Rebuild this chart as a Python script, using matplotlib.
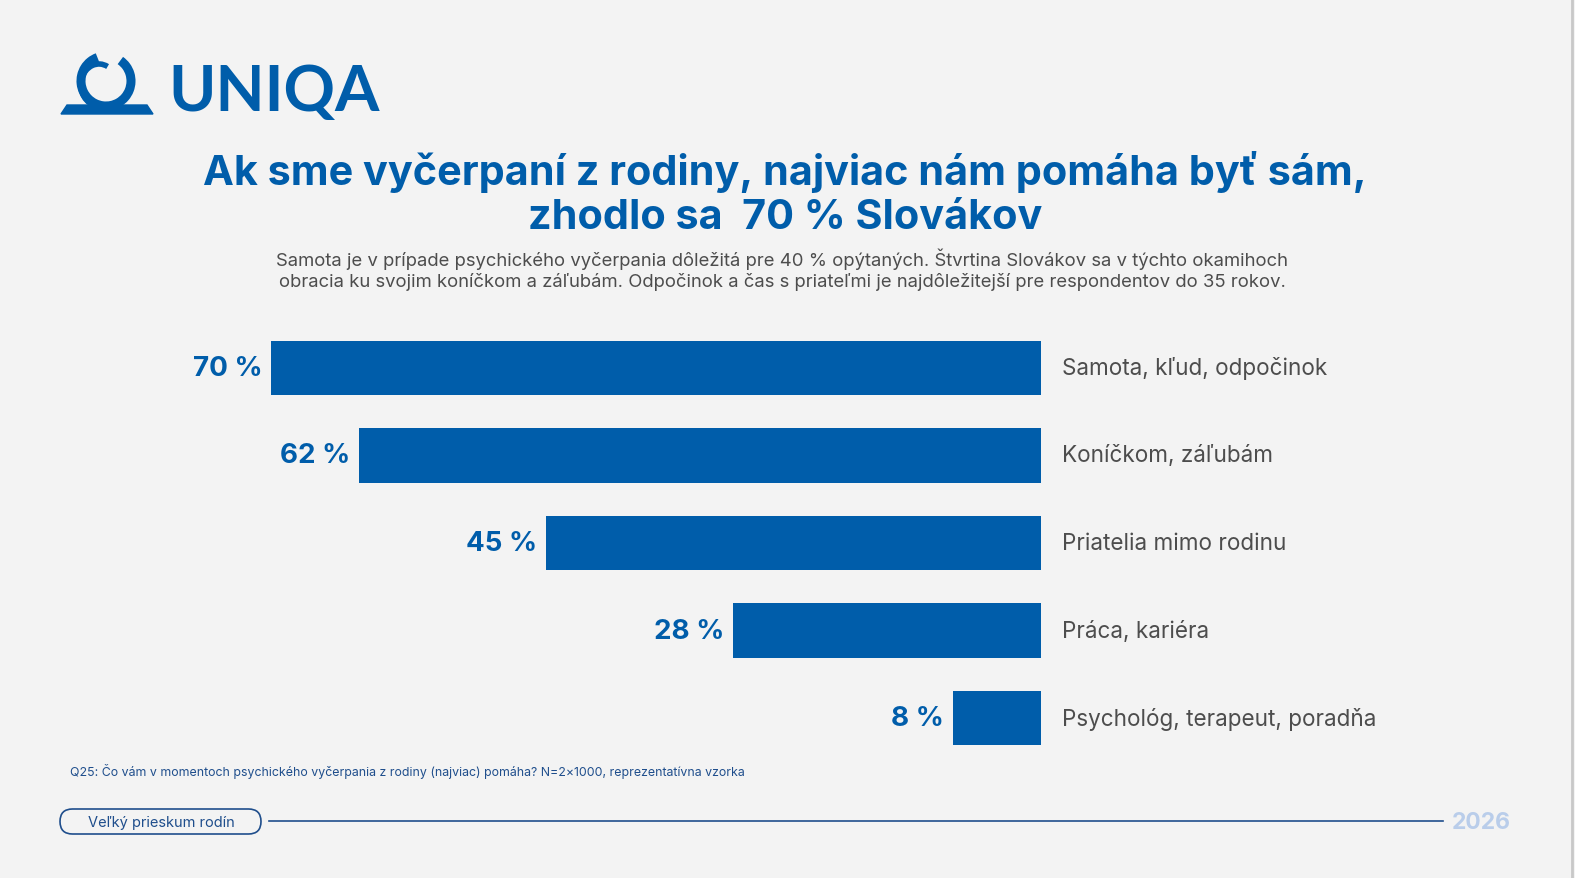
import matplotlib.pyplot as plt
from matplotlib.patches import FancyBboxPatch, Arc, Polygon
import numpy as np

# chart data
categories = ["Samota, kľud, odpočinok", "Koníčkom, záľubám", "Priatelia mimo rodinu",
              "Práca, kariéra", "Psychológ, terapeut, poradňa"]
values = [70, 62, 45, 28, 8]

title = "Ak sme vyčerpaní z rodiny, najviac nám pomáha byť sám,\nzhodlo sa  70 % Slovákov"
subtitle = ("Samota je v prípade psychického vyčerpania dôležitá pre 40 % opýtaných. Štvrtina Slovákov sa v týchto okamihoch\n"
            "obracia ku svojim koníčkom a záľubám. Odpočinok a čas s priateľmi je najdôležitejší pre respondentov do 35 rokov.")
footnote = "Q25: Čo vám v momentoch psychického vyčerpania z rodiny (najviac) pomáha? N=2×1000, reprezentatívna vzorka"

BLUE = "#005DAA"
GRAY = "#4d4d4d"
W, H = 1575, 879

plt.rcParams['font.family'] = ['Inter', 'DejaVu Sans']

fig = plt.figure(figsize=(W / 100, H / 100), dpi=100)
fig.patch.set_facecolor("#f3f3f3")

# overlay axes in pixel coordinates for decoration
deco = fig.add_axes([0, 0, 1, 1])
deco.set_xlim(0, W)
deco.set_ylim(H, 0)
deco.axis('off')
deco.set_zorder(0)

# right edge line
deco.plot([1572, 1572], [0, H], color="#c8c8c8", lw=2)

# logo symbol (rough)
deco.add_patch(Polygon([(61, 115), (153, 115), (147, 106), (67, 106)], closed=True, color=BLUE))
deco.add_patch(Arc((106, 82), 50, 50, theta1=-55, theta2=250, lw=6.5, color=BLUE))
deco.add_patch(Arc((99, 86), 36, 42, theta1=95, theta2=295, lw=4, color=BLUE))
deco.text(168, 93, "UNIQA", fontsize=46, fontweight='bold', color=BLUE, va='center', ha='left',
          family=['Lato', 'DejaVu Sans'])

# title and subtitle
deco.text(785, 194, title, fontsize=29.8, fontweight='bold', color=BLUE, ha='center', va='center',
          linespacing=1.2)
deco.text(782, 270, subtitle, fontsize=13.3, color=GRAY, ha='center', va='center', linespacing=1.25)

# footnote
deco.text(70, 772, footnote, fontsize=8.9, color="#1f4e8c", ha='left', va='center')

# footer
deco.add_patch(FancyBboxPatch((60, 810), 201, 25, boxstyle="round,pad=0,rounding_size=12.5",
                              fc="none", ec="#1f4e8c", lw=1.2))
deco.text(161, 823, "Veľký prieskum rodín", fontsize=10.5, color="#1f4e8c", ha='center', va='center')
deco.plot([269, 1443], [822, 822], color="#1f4e8c", lw=1.2)
deco.text(1481, 823, "2026", fontsize=16.5, fontweight='bold', color="#b9cdea", ha='center', va='center')

# bar chart axes: x=0 at pixel 1041, 11 px per percent
px_per = 11.0
x_right = 1041
x_left = x_right - 80 * px_per
ax = fig.add_axes([x_left / W, 116 / H, (x_right - x_left) / W, (761 - 323) / H])
ax.set_zorder(1)
ax.patch.set_alpha(0)
y = np.arange(len(values))
ax.barh(y, values, height=0.62, color=BLUE)
ax.set_xlim(80, 0)
ax.set_ylim(len(values) - 0.5, -0.5)
ax.axis('off')

for yi, v, c in zip(y, values, categories):
    ax.text(v + 0.8, yi, f"{v} %", fontsize=20, fontweight='bold', color=BLUE, ha='right', va='center')
    ax.annotate(c, xy=(0, yi), xytext=(15, 0), textcoords='offset points', fontsize=16.2,
                color=GRAY, ha='left', va='center', annotation_clip=False)

fig.savefig("out.png", dpi=100, facecolor=fig.get_facecolor())
